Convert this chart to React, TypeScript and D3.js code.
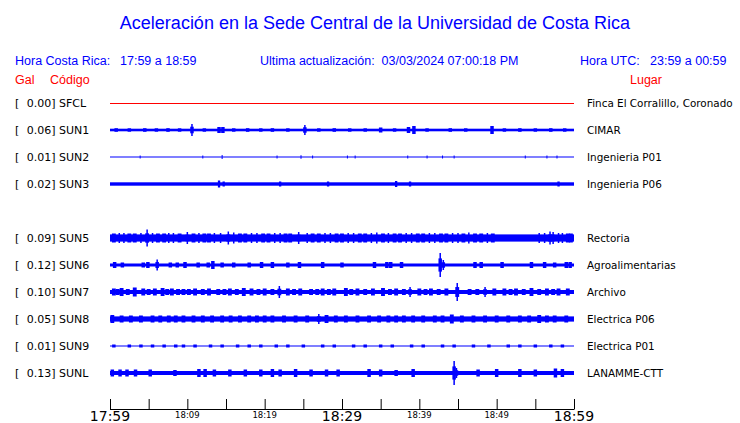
import React from "react";
import * as d3 from "d3";

const W = 740;
const H = 423;

const TITLE = "Aceleración en la Sede Central de la Universidad de Costa Rica";
const HEADER_LOCAL = "Hora Costa Rica:";
const LOCAL_RANGE = "17:59 a 18:59";
const HEADER_UPDATE = "Ultima actualización:  03/03/2024 07:00:18 PM";
const HEADER_UTC = "Hora UTC:";
const UTC_RANGE = "23:59 a 00:59";

// slots (SUN4 slot is empty in the figure)
const slots = ["SFCL", "SUN1", "SUN2", "SUN3", "SUN4", "SUN5", "SUN6", "SUN7", "SUN8", "SUN9", "SUNL"];

const codes = ["SFCL", "SUN1", "SUN2", "SUN3", "SUN5", "SUN6", "SUN7", "SUN8", "SUN9", "SUNL"];
const galValues = ["0.00", "0.06", "0.01", "0.02", "0.09", "0.12", "0.10", "0.05", "0.01", "0.13"];
const places = [
  "Finca El Corralillo, Coronado",
  "CIMAR",
  "Ingenieria P01",
  "Ingenieria P06",
  "Rectoria",
  "Agroalimentarias",
  "Archivo",
  "Electrica P06",
  "Electrica P01",
  "LANAMME-CTT",
];
// background noise half-amplitude per station
const baseAmp = [0, 1.3, 0.5, 1.7, 3.6, 1.5, 2, 2.6, 0.5, 2];
// typical burst duration (minutes) per station
const burstDur = [0, 0.45, 0.08, 0.3, 0.5, 0.45, 0.5, 0.5, 0.45, 0.45];

// bursts: [minute since 17:59, half amplitude]
const burstsSFCL: number[][] = [];
const burstsSUN1 = [[0.8, 1.8], [2.5, 1.7], [4.5, 1.8], [6, 1.7], [7.5, 1.8], [9, 1.7], [10.6, 6], [12.2, 1.7], [14.1, 3], [14.6, 3], [16, 1.7], [17.8, 1.8], [19.5, 1.7], [21, 1.8], [23, 1.7], [25.2, 5], [27, 1.7], [29, 1.8], [31, 1.7], [33, 1.7], [35, 2.5], [36.8, 1.7], [38.6, 3], [39.3, 4], [41, 1.7], [44, 1.8], [46, 1.7], [49.4, 4], [51, 1.7], [53, 1.8], [55, 1.7], [57, 1.8], [58.8, 1.7]];
const burstsSUN2 = [[3.9, 1.5], [12, 1.5], [14.5, 2], [21.6, 1.5], [24.7, 1.8], [26.2, 1.5], [30.7, 1.5], [31.7, 1.5], [38.5, 1.5], [41, 1.5], [43, 1.5], [44.5, 1.5], [53.7, 1.5], [56.5, 1.5], [57.8, 1.5]];
const burstsSUN3 = [[14.1, 3.5], [14.7, 2.5], [22, 2.5], [28.2, 2.5], [37, 3], [38.8, 2.5], [58, 2.5]];
const burstsSUN5 = [[0.5, 4.5], [1.2, 5], [1.8, 5], [2.5, 4.5], [3.2, 4.5], [4, 5], [4.8, 8.5], [5.5, 5], [6.2, 4.5], [7, 4.5], [7.6, 5], [8.2, 5], [9, 4.5], [10, 6], [10.8, 4.5], [11.5, 5], [12.2, 4.5], [12.8, 4.5], [13.5, 5], [14.3, 5], [15.3, 6.5], [16, 5.5], [16.8, 4.5], [17.5, 4.5], [18.3, 5], [19, 5], [19.8, 4.5], [20.5, 4.5], [21.3, 5], [22, 5], [22.7, 4.5], [23.3, 4.5], [24.4, 6], [25.5, 5], [26.2, 4.5], [27, 4.5], [27.8, 5], [28.5, 5], [29.3, 4.5], [30, 4.5], [30.8, 5], [31.5, 5], [32.3, 4.5], [33, 4.5], [33.8, 5], [34.5, 5.5], [35.3, 4.5], [36, 5], [36.8, 4.5], [37.5, 4.5], [38.3, 5], [39, 5], [39.8, 4.5], [40.5, 4.5], [41.3, 5], [42, 5], [42.8, 4.5], [43.5, 4.5], [44.3, 5], [45, 5], [45.7, 4.5], [46.4, 5.5], [47.2, 4.5], [48, 4.5], [48.8, 5], [49.5, 4.5], [55.5, 5], [56.2, 5], [56.9, 6.5], [57.3, 6], [58, 5], [58.5, 5], [59.2, 4.5], [59.6, 4.5]];
const burstsSUN6 = [[0.6, 3], [1.6, 2.5], [4.3, 2.5], [4.9, 3], [6.1, 5.5], [7.8, 2.5], [8.7, 2.5], [9.7, 3], [11.4, 2.5], [12.7, 2.5], [13.3, 4], [14.5, 2.5], [16, 2.5], [18, 2.5], [19.6, 3], [21, 3], [23, 2.5], [24.5, 3], [27.5, 3], [30, 2.5], [34.2, 3], [35.8, 3], [36.3, 3], [37.7, 3], [42.7, 12], [43.1, 5], [47.2, 3], [48, 3], [50.7, 3], [54.5, 3], [56.2, 3], [57.5, 2.5], [59, 3], [59.5, 3]];
const burstsSUN7 = [[0.5, 3.5], [1, 3], [1.5, 4], [2.3, 3], [3.2, 4.5], [4.3, 3.5], [5, 3], [5.8, 3.5], [6.8, 4], [7.4, 3], [8, 3.5], [8.8, 3], [9.5, 3], [10.2, 3], [11, 3.5], [12, 3], [12.8, 3.5], [14, 3], [14.8, 3], [15.5, 3.5], [16.4, 3], [17.3, 4], [18.3, 3.5], [19.2, 3], [20, 3.5], [21, 3], [21.9, 6], [23, 3.5], [23.8, 3], [24.6, 3.5], [26, 3], [26.8, 3], [27.5, 3.5], [28.3, 3], [29, 3.5], [30.5, 4], [31.2, 3], [32, 3.5], [33, 3], [34, 3.5], [35.3, 4], [36.2, 3], [37, 3.5], [38, 3], [38.8, 5], [40, 3.5], [40.8, 3], [41.5, 3.5], [42.5, 3], [43.5, 3.5], [44.9, 9], [46.5, 3], [47.5, 3], [48.5, 5], [49.7, 3.5], [51, 3.5], [51.8, 3], [52.5, 3.5], [53.5, 3], [54.5, 4], [55.5, 3], [56.5, 3.5], [57.3, 3], [58, 3.5], [59.2, 3.5]];
const burstsSUN8 = [[0.3, 4], [1.5, 3.5], [2.7, 3.5], [4, 3.5], [5.5, 3.5], [6.5, 3.5], [7.6, 3.5], [8.5, 3.5], [9.5, 3.5], [10.8, 3.5], [12, 3.5], [13.2, 3.5], [14.5, 3.5], [15.6, 3.5], [16.8, 3.5], [18, 3.5], [19, 3.5], [20, 3.5], [21, 3.5], [22.5, 3.5], [24, 3.5], [25.5, 3.5], [27, 5], [28, 4], [29.2, 3.5], [30.5, 3.5], [32, 3.5], [33.5, 3.5], [34.8, 3.5], [36, 3.5], [37, 3.5], [38, 3.5], [39.2, 3.5], [40.5, 3.5], [42, 3.5], [43, 3.5], [44.2, 4.5], [45.5, 3.5], [47, 3.5], [48.5, 3.5], [50, 3.5], [51.5, 3.5], [53, 3.5], [54.2, 3.5], [55.5, 4], [56.5, 3.5], [57.5, 3.5], [59, 3.5]];
const burstsSUN9 = [[0.5, 1.5], [2.5, 1.5], [4, 1.5], [5.5, 1.5], [7, 1.5], [8.5, 1.5], [9.5, 1.5], [11, 1.5], [13, 1.5], [14.5, 1.5], [16.5, 1.5], [18, 1.5], [19.5, 1.5], [21.5, 1.5], [23, 1.5], [25, 1.5], [27.5, 1.5], [29, 1.5], [31.5, 1.5], [33, 1.5], [35, 1.5], [36.5, 1.5], [39, 1.5], [40.5, 1.5], [43, 1.5], [44.5, 1.5], [47, 1.5], [49, 1.5], [51.5, 1.5], [53, 1.5], [55, 1.5], [57, 1.5], [58.5, 1.5]];
const burstsSUNL = [[0.3, 3.5], [1.3, 3.5], [2.2, 3.5], [3.3, 3.5], [5.2, 3.5], [8.4, 3], [11.5, 4], [12.3, 4], [13.5, 3.5], [15.5, 3.5], [17.5, 3.5], [19.5, 3.5], [21, 4], [22, 3.5], [24, 4], [26, 3.5], [28, 3.5], [29.5, 3.5], [33.5, 4], [35, 3.5], [37, 3], [39.2, 4], [44.5, 12], [44.8, 5], [47.6, 3.5], [50, 4], [53, 4], [55, 3.5], [57.6, 4.5], [58.5, 4]];
const bursts = [burstsSFCL, burstsSUN1, burstsSUN2, burstsSUN3, burstsSUN5, burstsSUN6, burstsSUN7, burstsSUN8, burstsSUN9, burstsSUNL];

const tickMinutes = [0, 5, 10, 15, 20, 25, 30, 35, 40, 45, 50, 55, 60];
const tickLabels = ["17:59", "18:09", "18:19", "18:29", "18:39", "18:49", "18:59"];
const labelMinutes = [0, 10, 20, 30, 40, 50, 60];
const bigLabels = ["17:59", "18:29", "18:59"];

const BLUE = "#0000ff";
const TRACE = "#0000ff";
const RED = "#ff0000";
const SANS = "'Liberation Sans', Arial, sans-serif";
const DJV = "'DejaVu Sans', sans-serif";

export default function App() {
  const x = d3.scaleLinear().domain([0, 60]).range([110, 574]);
  const y = d3.scalePoint<string>().domain(slots).range([103, 373]);
  const amp = d3.scaleLinear().domain([0, 1]).range([0, 1]);

  return (
    <svg
      width={W}
      height={H}
      style={{ position: "absolute", left: 0, top: 0, background: "#fff" }}
    >
      <text x={375} y={29} textAnchor="middle" fill={BLUE} fontFamily={SANS} fontSize={18}>
        {TITLE}
      </text>
      <g fontFamily={SANS} fontSize={12.5} fill={BLUE}>
        <text x={15} y={65}>{HEADER_LOCAL}</text>
        <text x={120} y={65}>{LOCAL_RANGE}</text>
        <text x={260} y={65} style={{ whiteSpace: "pre" }}>{HEADER_UPDATE}</text>
        <text x={580} y={65}>{HEADER_UTC}</text>
        <text x={650} y={65}>{UTC_RANGE}</text>
      </g>
      <g fontFamily={SANS} fontSize={12.5} fill={RED}>
        <text x={15} y={84}>Gal</text>
        <text x={50} y={84}>Código</text>
        <text x={630} y={84}>Lugar</text>
      </g>

      {codes.map((c, i) => {
        const cy = y(c) as number;
        const b = amp(baseAmp[i]);
        const bw = Math.max(1, x(burstDur[i]) - x(0));
        return (
          <g key={c}>
            <text x={15} y={cy + 4} fontFamily={DJV} fontSize={11} fill="#000">[</text>
            <text x={55.5} y={cy + 4} textAnchor="end" fontFamily={DJV} fontSize={11} fill="#000">
              {galValues[i] + "]"}
            </text>
            <text x={59} y={cy + 4} fontFamily={DJV} fontSize={11} fill="#000">{c}</text>
            <text x={587} y={cy + 4} fontFamily={DJV} fontSize={10.4} fill="#000">{places[i]}</text>
            {c === "SFCL" ? (
              <line x1={x(0)} x2={x(60)} y1={cy + 0.5} y2={cy + 0.5} stroke={RED} strokeWidth={1} />
            ) : (
              <g fill={TRACE}>
                <rect x={x(0)} y={cy - b} width={x(60) - x(0)} height={Math.max(1, 2 * b)} />
                {bursts[i].map(([t, a], k) => {
                  const h = amp(a);
                  if (a >= 5) {
                    return (
                      <g key={k}>
                        <rect x={x(t) - bw / 2} y={cy - h * 0.55} width={bw} height={h * 1.1} />
                        <rect x={x(t) - 0.75} y={cy - h} width={1.5} height={2 * h} />
                      </g>
                    );
                  }
                  return <rect key={k} x={x(t) - bw / 2} y={cy - h} width={bw} height={2 * h} />;
                })}
              </g>
            )}
          </g>
        );
      })}

      <g>
        <line x1={x(0)} x2={x(60)} y1={409.5} y2={409.5} stroke="#000" strokeWidth={1} />
        {tickMinutes.map((m) => (
          <line key={m} x1={x(m) + 0.5} x2={x(m) + 0.5} y1={399} y2={409.5} stroke="#000" strokeWidth={1} />
        ))}
        {labelMinutes.map((m, i) => {
          const big = bigLabels.includes(tickLabels[i]);
          return (
            <text
              key={m}
              x={x(m)}
              y={big ? 421 : 418}
              textAnchor="middle"
              fontFamily={DJV}
              fontSize={big ? 14 : 8.5}
              fill="#000"
            >
              {tickLabels[i]}
            </text>
          );
        })}
      </g>
    </svg>
  );
}
